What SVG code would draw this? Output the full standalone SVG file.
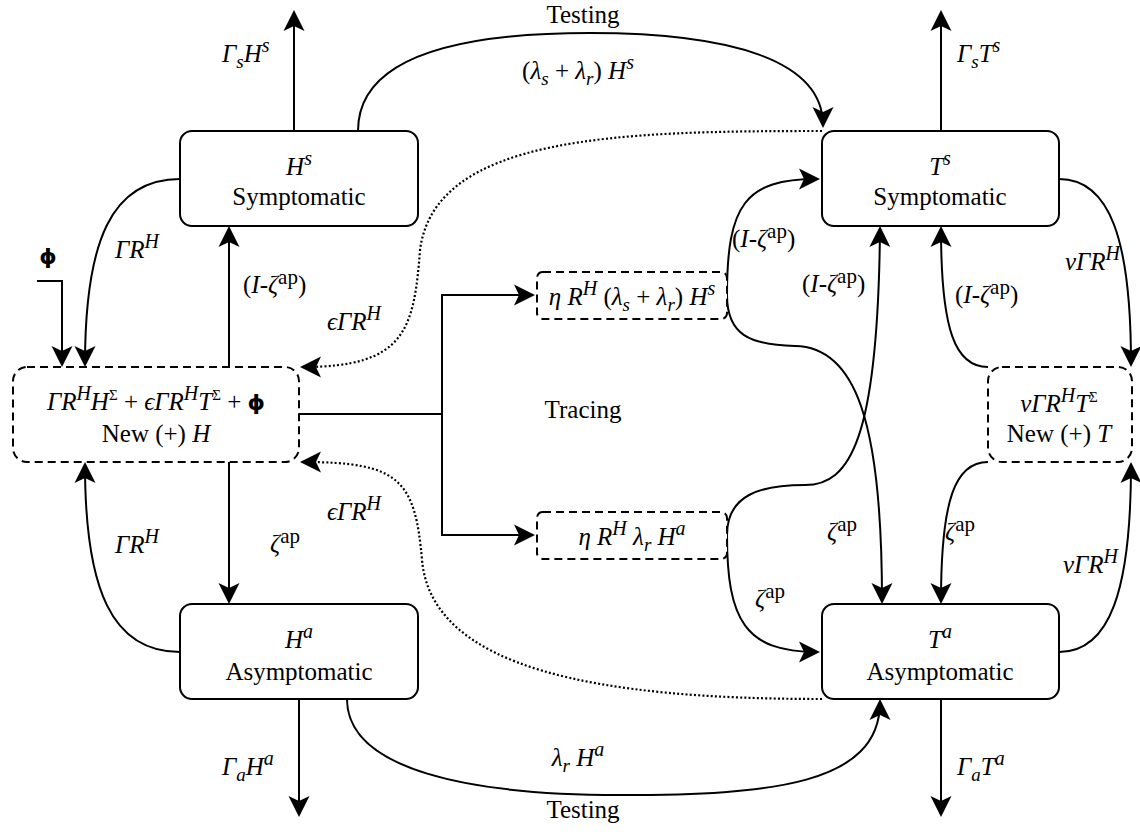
<svg xmlns="http://www.w3.org/2000/svg" width="1140" height="835" viewBox="0 0 1140 835">
  <style>
    text { font-family: "Liberation Serif", "DejaVu Serif", serif; font-size: 25px; fill: #000; }
    .i { font-style: italic; }
    .sup { font-size: 20px; }
    .ap { font-size: 21px; font-style: normal; }
    .sub { font-size: 19px; }
    .sm { font-size: 15px; }
    .phi { font-family: "DejaVu Sans", sans-serif; font-weight: bold; font-style: normal; font-size: 22px; }
    .box { fill: #fff; stroke: #000; stroke-width: 2; }
    .dbox { fill: #fff; stroke: #000; stroke-width: 2; stroke-dasharray: 8 5; }
    .edge { fill: none; stroke: #000; stroke-width: 2; marker-end: url(#arrow); }
    .plain { fill: none; stroke: #000; stroke-width: 2; }
    .dot { fill: none; stroke: #000; stroke-width: 2.2; stroke-dasharray: 2 2.2; marker-end: url(#arrow); }
  </style>
  <defs>
    <marker id="arrow" markerUnits="userSpaceOnUse" viewBox="-20 -11 24 22" refX="0" refY="0" markerWidth="24" markerHeight="22" orient="auto">
      <path d="M3,0 L-18,-10.5 L-13,0 L-18,10.5 Z" fill="#000" stroke="none"/>
    </marker>
  </defs>
  <rect width="1140" height="835" fill="#fff"/>

  <g id="connectors">
    <!-- removal flows -->
    <path class="edge" d="M294,131 L294,13"/>
    <path class="edge" d="M941,131 L941,13"/>
    <path class="edge" d="M299,699 L299,814"/>
    <path class="edge" d="M941,699 L941,814"/>
    <!-- testing -->
    <path class="edge" d="M358,131 C358,60 450,33 590,33 C730,33 823,60 823,125"/>
    <path class="edge" d="M347,699 C347,770 470,795 620,795 C770,795 880,785 880,702"/>
    <!-- dotted feedback into new H -->
    <path class="dot" d="M822,131 C620,131 435,135 420,250 C414,330 405,367 303,367"/>
    <path class="dot" d="M822,699 C600,699 432,670 422,560 C415,480 400,462 303,462"/>
    <!-- H side -->
    <path class="edge" d="M180,179 C112,179 85,240 85,364"/>
    <path class="edge" d="M180,652 C112,652 85,590 85,465"/>
    <path class="edge" d="M37,281 L62,281 L62,364"/>
    <path class="edge" d="M229,367 L229,229"/>
    <path class="edge" d="M229,462 L229,601"/>
    <!-- tracing -->
    <path class="plain" d="M299,414 L442,414"/>
    <path class="edge" d="M442,414 L442,295 L532,295"/>
    <path class="edge" d="M442,414 L442,535 L532,535"/>
    <path class="edge" d="M727,295 C727,205 745,179 817,179"/>
    <path class="edge" d="M727,295 C727,335 750,345 795,346 C855,347 882,420 882,601"/>
    <path class="edge" d="M727,535 C727,495 760,485 805,485 C850,485 878,440 880,229"/>
    <path class="edge" d="M727,535 C727,620 745,652 817,652"/>
    <!-- T side -->
    <path class="edge" d="M1059,179 C1110,179 1131,240 1131,364"/>
    <path class="edge" d="M1059,652 C1110,652 1131,590 1131,465"/>
    <path class="edge" d="M988,367 C955,367 941,330 941,229"/>
    <path class="edge" d="M988,462 C955,462 941,500 941,601"/>
  </g>

  <g id="edge-labels">
    <text x="583" y="23" text-anchor="middle">Testing</text>
    <text x="578" y="79" text-anchor="middle">(<tspan class="i">λ</tspan><tspan class="i sub" dy="6">s</tspan><tspan dy="-6"> + </tspan><tspan class="i">λ</tspan><tspan class="i sub" dy="6">r</tspan><tspan dy="-6">) </tspan><tspan class="i">H</tspan><tspan class="i sup" dy="-10">s</tspan></text>
    <text x="583" y="818" text-anchor="middle">Testing</text>
    <text x="578" y="766" text-anchor="middle" class="i">λ<tspan class="sub" dy="6">r</tspan><tspan dy="-6"> H</tspan><tspan class="sup" dy="-10">a</tspan></text>

    <text x="222" y="62" class="i">Γ<tspan class="sub" dy="6">s</tspan><tspan dy="-6">H</tspan><tspan class="sup" dy="-10">s</tspan></text>
    <text x="957" y="62" class="i">Γ<tspan class="sub" dy="6">s</tspan><tspan dy="-6">T</tspan><tspan class="sup" dy="-10">s</tspan></text>
    <text x="222" y="775" class="i">Γ<tspan class="sub" dy="6">a</tspan><tspan dy="-6">H</tspan><tspan class="sup" dy="-10">a</tspan></text>
    <text x="957" y="775" class="i">Γ<tspan class="sub" dy="6">a</tspan><tspan dy="-6">T</tspan><tspan class="sup" dy="-10">a</tspan></text>

    <text x="115" y="258" class="i">ΓR<tspan class="sup" dy="-10">H</tspan></text>
    <text x="115" y="553" class="i">ΓR<tspan class="sup" dy="-10">H</tspan></text>
    <text x="243" y="293">(<tspan class="i">I</tspan>-<tspan class="i">ζ</tspan><tspan class="ap" dy="-9">ap</tspan><tspan dy="9">)</tspan></text>
    <text x="270" y="552"><tspan class="i">ζ</tspan><tspan class="ap" dy="-9">ap</tspan></text>
    <text x="327" y="330" class="i">ϵΓR<tspan class="sup" dy="-10">H</tspan></text>
    <text x="327" y="520" class="i">ϵΓR<tspan class="sup" dy="-10">H</tspan></text>
    <text x="48" y="264" text-anchor="middle" class="phi">ϕ</text>

    <text x="583" y="418" text-anchor="middle">Tracing</text>

    <text x="732" y="247">(<tspan class="i">I</tspan>-<tspan class="i">ζ</tspan><tspan class="ap" dy="-9">ap</tspan><tspan dy="9">)</tspan></text>
    <text x="802" y="292">(<tspan class="i">I</tspan>-<tspan class="i">ζ</tspan><tspan class="ap" dy="-9">ap</tspan><tspan dy="9">)</tspan></text>
    <text x="955" y="303">(<tspan class="i">I</tspan>-<tspan class="i">ζ</tspan><tspan class="ap" dy="-9">ap</tspan><tspan dy="9">)</tspan></text>
    <text x="827" y="540"><tspan class="i">ζ</tspan><tspan class="ap" dy="-9">ap</tspan></text>
    <text x="755" y="607"><tspan class="i">ζ</tspan><tspan class="ap" dy="-9">ap</tspan></text>
    <text x="945" y="540"><tspan class="i">ζ</tspan><tspan class="ap" dy="-9">ap</tspan></text>
    <text x="1065" y="270" class="i">νΓR<tspan class="sup" dy="-10">H</tspan></text>
    <text x="1063" y="573" class="i">νΓR<tspan class="sup" dy="-10">H</tspan></text>
  </g>

  <g id="node-hs">
    <rect class="box" x="180" y="131" width="238" height="95" rx="12"/>
    <text x="299" y="175" text-anchor="middle"><tspan class="i">H</tspan><tspan class="i sup" dy="-10">s</tspan></text>
    <text x="299" y="205" text-anchor="middle">Symptomatic</text>
  </g>
  <g id="node-ts">
    <rect class="box" x="822" y="131" width="237" height="95" rx="12"/>
    <text x="940" y="175" text-anchor="middle"><tspan class="i">T</tspan><tspan class="i sup" dy="-10">s</tspan></text>
    <text x="940" y="205" text-anchor="middle">Symptomatic</text>
  </g>
  <g id="node-ha">
    <rect class="box" x="180" y="604" width="238" height="95" rx="12"/>
    <text x="299" y="648" text-anchor="middle"><tspan class="i">H</tspan><tspan class="i sup" dy="-10">a</tspan></text>
    <text x="299" y="680" text-anchor="middle">Asymptomatic</text>
  </g>
  <g id="node-ta">
    <rect class="box" x="822" y="604" width="237" height="95" rx="12"/>
    <text x="940" y="648" text-anchor="middle"><tspan class="i">T</tspan><tspan class="i sup" dy="-10">a</tspan></text>
    <text x="940" y="680" text-anchor="middle">Asymptomatic</text>
  </g>
  <g id="node-new-h">
    <rect class="dbox" x="13" y="367" width="286" height="95" rx="14"/>
    <text x="156" y="410" text-anchor="middle"><tspan class="i">ΓR</tspan><tspan class="i sup" dy="-10">H</tspan><tspan class="i" dy="10">H</tspan><tspan class="sm" dy="-10">Σ</tspan><tspan dy="10"> + </tspan><tspan class="i">ϵΓR</tspan><tspan class="i sup" dy="-10">H</tspan><tspan class="i" dy="10">T</tspan><tspan class="sm" dy="-10">Σ</tspan><tspan dy="10"> + </tspan><tspan class="phi">ϕ</tspan></text>
    <text x="156" y="442" text-anchor="middle">New (+) <tspan class="i">H</tspan></text>
  </g>
  <g id="node-new-t">
    <rect class="dbox" x="988" y="367" width="144" height="95" rx="14"/>
    <text x="1059" y="412" text-anchor="middle"><tspan class="i">νΓR</tspan><tspan class="i sup" dy="-10">H</tspan><tspan class="i" dy="10">T</tspan><tspan class="sm" dy="-10">Σ</tspan></text>
    <text x="1059" y="442" text-anchor="middle">New (+) <tspan class="i">T</tspan></text>
  </g>
  <g id="node-trace-s">
    <rect class="dbox" x="537" y="272" width="190" height="47" rx="6"/>
    <text x="632" y="305" text-anchor="middle"><tspan class="i">η R</tspan><tspan class="i sup" dy="-10">H</tspan><tspan dy="10"> (</tspan><tspan class="i">λ</tspan><tspan class="i sub" dy="6">s</tspan><tspan dy="-6"> + </tspan><tspan class="i">λ</tspan><tspan class="i sub" dy="6">r</tspan><tspan dy="-6">) </tspan><tspan class="i">H</tspan><tspan class="i sup" dy="-10">s</tspan></text>
  </g>
  <g id="node-trace-a">
    <rect class="dbox" x="537" y="512" width="190" height="47" rx="6"/>
    <text x="632" y="545" text-anchor="middle" class="i">η R<tspan class="sup" dy="-10">H</tspan><tspan dy="10"> λ</tspan><tspan class="sub" dy="6">r</tspan><tspan dy="-6"> H</tspan><tspan class="sup" dy="-10">a</tspan></text>
  </g>
</svg>
